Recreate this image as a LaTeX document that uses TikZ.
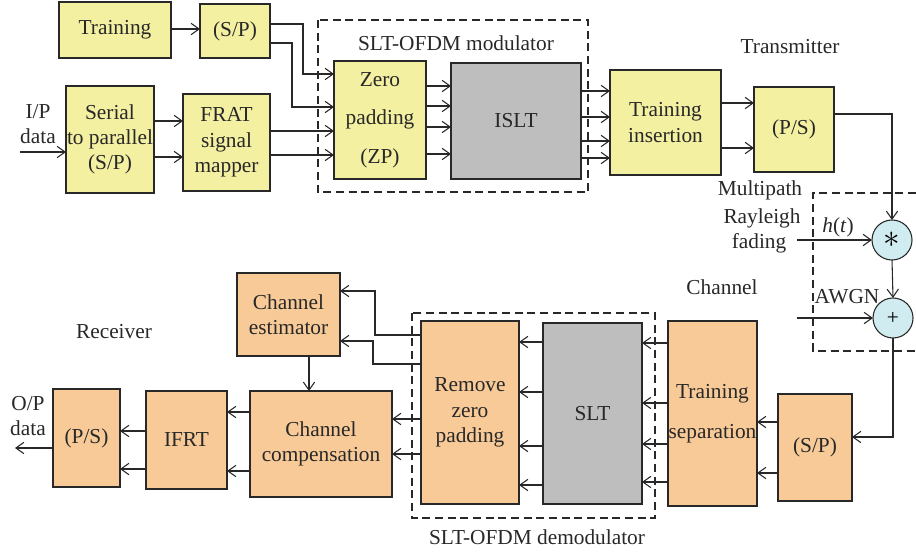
\documentclass[tikz,border=0pt]{standalone}
\usepackage{fontspec}
\setmainfont{Liberation Serif}
\usetikzlibrary{arrows.meta}
\definecolor{ylw}{RGB}{244,240,162}
\definecolor{org}{RGB}{248,202,152}
\definecolor{gry}{RGB}{190,190,190}
\definecolor{cyn}{RGB}{208,236,240}
\definecolor{ln}{RGB}{40,40,40}
\newcommand\blk[7]{\node[#6, minimum width={(#4-#2)*0.75pt}, minimum height={(#5-#3)*0.75pt}] (#1) at ({(#2+#4)/2},{(#3+#5)/2}) {#7};}
\begin{document}
\begin{tikzpicture}[x=0.75pt,y=-0.75pt,
  font=\fontsize{16}{19}\selectfont,
  line width=0.8pt,
  >={Straight Barb[length=6pt,width=8.5pt]},
  box/.style={draw=ln, inner sep=0pt, outer sep=0pt, align=center, text=ln},
  ybox/.style={box, fill=ylw},
  obox/.style={box, fill=org},
  gbox/.style={box, fill=gry},
  sumnode/.style={circle, draw=ln, fill=cyn, minimum size=30pt, inner sep=0pt, outer sep=0pt},
  ar/.style={->, draw=ln},
  lbl/.style={text=ln, inner sep=0pt, align=center},
  dsh/.style={draw=ln, dash pattern=on 6pt off 3.5pt}]
\useasboundingbox (0,0) rectangle (916,552);
% transmitter blocks
\blk{trn}{59}{2}{171}{58}{ybox}{Training}
\blk{sp1}{200}{4}{270}{58}{ybox}{(S/P)}
\blk{s2p}{66}{86}{154}{193}{ybox}{Serial\\to parallel\\(S/P)}
\blk{frat}{183}{94}{270}{191}{ybox}{FRAT\\signal\\mapper}
\blk{zp}{334}{61}{426}{179}{ybox}{Zero\\[10pt]padding\\[10pt](ZP)}
\blk{islt}{451}{63}{581}{179}{gbox}{ISLT}
\blk{ti}{610}{70}{721}{175}{ybox}{Training\\insertion}
\blk{pst}{754}{87}{834}{172}{ybox}{(P/S)}
% receiver blocks
\blk{spr}{778}{394}{852}{501}{obox}{(S/P)}
\blk{ts}{668}{321}{757}{506}{obox}{Training\\[11pt]separation}
\blk{slt}{543}{323}{642}{504}{gbox}{SLT}
\blk{rzp}{421}{321}{519}{504}{obox}{Remove\\zero\\padding}
\blk{ce}{237}{273}{340}{356}{obox}{Channel\\estimator}
\blk{cc}{250}{391}{392}{497}{obox}{Channel\\compensation}
\blk{ifrt}{146}{391}{227}{489}{obox}{IFRT}
\blk{psr}{53}{389}{120}{487}{obox}{(P/S)}
% channel
\node[sumnode] (mul) at (892,240) {\fontsize{24}{24}\selectfont$\ast$};
\node[sumnode] (add) at (893,318) {+};
% dashed groups
\draw[dsh] (318,20) rectangle (588,192);
\draw[dsh] (412,313) rectangle (655,518);
\draw[dsh] (916,193) -- (813,193) -- (813,351) -- (916,351);
% labels
\node[lbl] (lmod) at (456,43) {SLT-OFDM modulator};
\node[lbl] (ltx) at (790,47) {Transmitter};
\node[lbl] (lmp) at (760,190) {Multipath};
\node[lbl] (lray) at (762,218) {Rayleigh};
\node[lbl] (lfad) at (759,243) {fading};
\node[lbl] (lh) at (838,227) {\textit{h}(\textit{t})};
\node[lbl] (lch) at (722,287) {Channel};
\node[lbl] (lawgn) at (847,297) {AWGN};
\node[lbl] (lrx) at (114,332) {Receiver};
\node[lbl] (ldem) at (537,537) {SLT-OFDM demodulator};
\node[lbl] (lip) at (38,124) {I/P\\data};
\node[lbl] (lop) at (28,416) {O/P\\data};
% free ends
\coordinate (ipin) at (20,152);
\coordinate (opout) at (15,448);
\coordinate (hin) at (797,240);
\coordinate (nin) at (797,318);
% transmitter connectors
\draw[ar] (trn.east |- 0,29) -- (sp1.west |- 0,29);
\draw[ar] (sp1.east |- 0,24) -- (303,24) -- (303,74) -- (zp.west |- 0,74);
\draw[ar] (sp1.east |- 0,43) -- (292,43) -- (292,107) -- (zp.west |- 0,107);
\draw[ar] (ipin) -- (s2p.west |- ipin);
\foreach \y in {121,157} \draw[ar] (s2p.east |- 0,\y) -- (frat.west |- 0,\y);
\foreach \y in {131,155} \draw[ar] (frat.east |- 0,\y) -- (zp.west |- 0,\y);
\foreach \y in {86,106,127,154} \draw[ar] (zp.east |- 0,\y) -- (islt.west |- 0,\y);
\foreach \y in {91,117,141,158} \draw[ar] (islt.east |- 0,\y) -- (ti.west |- 0,\y);
\foreach \y in {103,148} \draw[ar] (ti.east |- 0,\y) -- (pst.west |- 0,\y);
\draw[ar] (pst.east |- 0,114) -| (mul.north);
\draw[ar] (hin) -- (mul.west);
\draw[ar] (mul.south) -- (add.north);
\draw[ar] (nin) -- (add.west);
\draw[ar] (add.south) |- (spr.east |- 0,437);
% receiver connectors
\foreach \y in {422,473} \draw[ar] (spr.west |- 0,\y) -- (ts.east |- 0,\y);
\foreach \y in {343,403,444,482} \draw[ar] (ts.west |- 0,\y) -- (slt.east |- 0,\y);
\foreach \y in {342,392,446,485} \draw[ar] (slt.west |- 0,\y) -- (rzp.east |- 0,\y);
\draw[ar] (rzp.west |- 0,335) -- (375,335) -- (375,291) -- (ce.east |- 0,291);
\draw[ar] (rzp.west |- 0,364) -- (373,364) -- (373,341) -- (ce.east |- 0,341);
\foreach \y in {419,454} \draw[ar] (rzp.west |- 0,\y) -- (cc.east |- 0,\y);
\draw[ar] (ce.south -| 309,0) -- (cc.north -| 309,0);
\foreach \y in {412,471} \draw[ar] (cc.west |- 0,\y) -- (ifrt.east |- 0,\y);
\foreach \y in {431,469} \draw[ar] (ifrt.west |- 0,\y) -- (psr.east |- 0,\y);
\draw[ar] (psr.west |- opout) -- (opout);
\end{tikzpicture}
\end{document}
